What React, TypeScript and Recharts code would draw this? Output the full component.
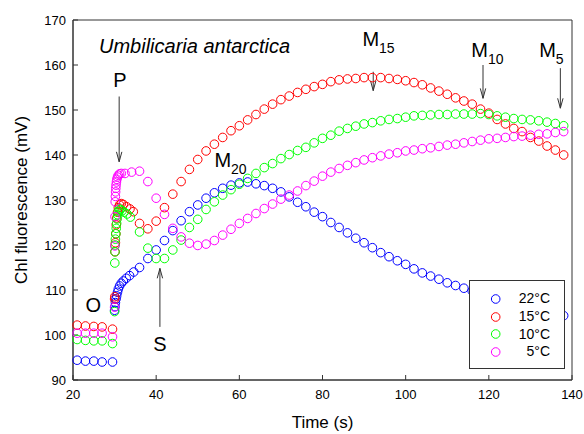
import { ScatterChart, Scatter, XAxis, YAxis, ReferenceArea, ReferenceLine, ReferenceDot, Legend } from "recharts"

const xTicks = [20, 40, 60, 80, 100, 120, 140]
const yTicks = [90, 100, 110, 120, 130, 140, 150, 160, 170]

// [time (s), Chl fluorescence (mV)]
const s22: [number, number][] = [
  [21, 94.4], [23, 94.2], [25, 94.2], [27, 94.0], [29.5, 94.0],
  [30.0, 105.5], [30.1, 106.3], [30.2, 107.2], [30.35, 108.0], [30.5, 108.7], [30.7, 109.5], [30.9, 110.2],
  [31.2, 110.9], [31.6, 111.5], [32.1, 112.0], [32.8, 112.6], [33.6, 113.2], [34.6, 114.0],
  [36, 115.0], [38, 117.0], [40, 118.9], [42, 121.0], [44, 123.2], [46, 125.4], [48, 127.4], [50, 128.9],
  [52, 130.4], [54, 131.6], [56, 132.6], [58, 133.3], [60, 133.8], [62, 134.0], [64, 133.6], [66, 133.2],
  [68, 132.6], [70, 131.8], [72, 130.7], [74, 129.5], [76, 128.5], [78, 127.3], [80, 126.3], [82, 125.0],
  [84, 123.9], [86, 122.7], [88, 121.5], [90, 120.5], [92, 119.4], [94, 118.3], [96, 117.4], [98, 116.5],
  [100, 115.7], [102, 114.7], [104, 113.8], [106, 113.1], [108, 112.4], [110, 111.6], [112, 111.0],
  [114, 110.4], [116, 109.8], [118, 109.3], [120, 108.8], [122, 108.3], [124, 107.8], [126, 107.3],
  [128, 106.8], [130, 106.3], [132, 105.8], [134, 105.2], [136, 104.7], [138, 104.3],
]

const s15: [number, number][] = [
  [21, 102.2], [23, 102.0], [25, 101.9], [27, 101.8], [29.5, 101.3],
  [30.0, 108.0], [30.05, 108.5], [30.1, 118.5], [30.2, 120.5], [30.3, 122.5], [30.4, 124.5], [30.5, 126.0],
  [30.7, 127.3], [30.9, 128.3], [31.2, 128.9], [31.6, 129.2], [32.1, 129.0], [32.9, 128.5], [33.7, 128.0],
  [34.5, 127.4], [36, 124.8], [38, 123.6], [40, 125.3], [42, 128.3], [44, 131.3], [46, 134.1], [48, 136.8],
  [50, 139.0], [52, 140.9], [54, 142.4], [56, 143.9], [58, 145.4], [60, 146.5], [62, 147.8], [64, 149.0],
  [66, 150.2], [68, 151.3], [70, 152.3], [72, 153.1], [74, 153.9], [76, 154.6], [78, 155.2], [80, 155.7],
  [82, 156.3], [84, 156.7], [86, 156.9], [88, 157.0], [90, 157.2], [92, 157.2], [94, 157.2], [96, 157.0],
  [98, 156.8], [100, 156.5], [102, 156.1], [104, 155.6], [106, 154.9], [108, 154.2], [110, 153.5],
  [112, 152.7], [114, 152.0], [116, 151.3], [118, 150.2], [120, 149.3], [122, 147.9], [124, 146.9],
  [126, 145.9], [128, 145.2], [130, 143.9], [132, 143.1], [134, 142.0], [136, 141.1], [138, 140.0],
]

const s10: [number, number][] = [
  [21, 99.0], [23, 98.8], [25, 98.7], [27, 98.7], [29.5, 98.1],
  [30.0, 105.2], [30.05, 116.0], [30.1, 118.5], [30.15, 120.0], [30.2, 121.3], [30.3, 122.5], [30.4, 123.7],
  [30.5, 124.8], [30.6, 125.8], [30.75, 126.7], [30.9, 127.4], [31.1, 128.0], [31.4, 127.9], [31.8, 127.6],
  [32.3, 127.3], [33.0, 126.9], [33.8, 126.2], [36, 122.9], [38, 119.3], [40, 117.0], [42, 117.0],
  [44, 118.9], [46, 121.1], [48, 123.9], [50, 125.7], [52, 127.9], [54, 129.6], [56, 131.1], [58, 132.3],
  [60, 133.5], [62, 134.8], [64, 135.9], [66, 137.2], [68, 138.1], [70, 139.2], [72, 140.1], [74, 141.0],
  [76, 141.7], [78, 142.7], [80, 143.7], [82, 144.4], [84, 145.3], [86, 145.9], [88, 146.4], [90, 146.9],
  [92, 147.2], [94, 147.6], [96, 147.9], [98, 148.1], [100, 148.4], [102, 148.7], [104, 148.8],
  [106, 148.9], [108, 149.0], [110, 149.0], [112, 149.1], [114, 149.1], [116, 149.1], [118, 149.2],
  [120, 149.0], [122, 148.7], [124, 148.4], [126, 148.1], [128, 147.9], [130, 147.8], [132, 147.6],
  [134, 147.3], [136, 147.0], [138, 146.5],
]

const s5: [number, number][] = [
  [21, 100.4], [23, 100.4], [25, 100.4], [27, 100.4], [29.5, 99.6],
  [30.0, 106.2], [30.05, 119.8], [30.1, 126.3], [30.15, 129.6], [30.2, 130.8], [30.25, 131.8], [30.3, 132.6],
  [30.35, 133.3], [30.45, 134.0], [30.55, 134.6], [30.7, 135.1], [30.9, 135.5], [31.2, 135.8], [31.6, 135.9],
  [32.5, 135.9], [34.1, 136.2], [36, 136.4], [38, 134.1], [40, 130.4], [42, 126.8], [44, 123.7], [46, 121.8],
  [48, 120.4], [50, 119.9], [52, 120.2], [54, 121.0], [56, 122.2], [58, 123.5], [60, 124.8], [62, 125.9],
  [64, 127.0], [66, 128.1], [68, 129.1], [70, 130.2], [72, 131.1], [74, 132.0], [76, 133.2], [78, 134.2],
  [80, 135.3], [82, 136.2], [84, 137.0], [86, 137.7], [88, 138.3], [90, 138.9], [92, 139.4], [94, 139.8],
  [96, 140.2], [98, 140.5], [100, 140.9], [102, 141.1], [104, 141.4], [106, 141.6], [108, 141.9],
  [110, 142.2], [112, 142.4], [114, 142.7], [116, 143.0], [118, 143.3], [120, 143.6], [122, 143.7],
  [124, 143.9], [126, 144.1], [128, 144.2], [130, 144.4], [132, 144.6], [134, 144.7], [136, 145.0],
  [138, 145.2],
]

const series = [
  { name: "22°C", color: "#0000ff", data: s22 },
  { name: "15°C", color: "#ff0000", data: s15 },
  { name: "10°C", color: "#00ff00", data: s10 },
  { name: "5°C", color: "#ff00ff", data: s5 },
]

// annotation text, anchored in data units
const notes = [
  { text: "Umbilicaria antarctica", sub: "", t: 26.25, v: 162.7, anchor: "start", italic: true, size: 20 },
  { text: "P", sub: "", t: 31.3, v: 155.1, anchor: "middle", italic: false, size: 20 },
  { text: "O", sub: "", t: 24.9, v: 105.1, anchor: "middle", italic: false, size: 20 },
  { text: "S", sub: "", t: 40.9, v: 96.5, anchor: "middle", italic: false, size: 20 },
  { text: "M", sub: "20", t: 54.0, v: 137.4, anchor: "start", italic: false, size: 20 },
  { text: "M", sub: "15", t: 89.6, v: 164.3, anchor: "start", italic: false, size: 20 },
  { text: "M", sub: "10", t: 115.8, v: 161.7, anchor: "start", italic: false, size: 20 },
  { text: "M", sub: "5", t: 132.1, v: 161.7, anchor: "start", italic: false, size: 20 },
]

// arrows: from tail to tip
const arrows = [
  { t: 31.1, from: 153, to: 138.5 },
  { t: 40.9, from: 101.8, to: 114.8 },
  { t: 92.2, from: 158.5, to: 154.3 },
  { t: 118.6, from: 160, to: 152.6 },
  { t: 137.2, from: 159.3, to: 150.4 },
]

const ink = "#333"

function LegendBox() {
  return (
    <div
      style={{
        width: 96,
        height: 89,
        background: "#fff",
        border: `1px solid ${ink}`,
        boxSizing: "border-box",
        paddingTop: 9,
        fontSize: 14,
        color: "#000",
      }}
    >
      {series.map((s) => (
        <div key={s.name} style={{ display: "flex", alignItems: "center", height: 17.8 }}>
          <svg width={40} height={12} style={{ display: "block" }}>
            <circle cx={25.7} cy={6} r={4.3} fill="none" stroke={s.color} strokeWidth={1} />
          </svg>
          <span style={{ marginLeft: "auto", marginRight: 14, lineHeight: "17.8px" }}>{s.name}</span>
        </div>
      ))}
    </div>
  )
}

export default function App() {
  return (
    <div style={{ position: "absolute", left: 0, top: 0, width: 584, height: 434, background: "#fff", fontFamily: "'Liberation Sans', Arial, sans-serif" }}>
      <ScatterChart width={584} height={434} margin={{ top: 20, right: 12, bottom: 24, left: 23 }}>
        <XAxis
          type="number"
          dataKey="t"
          domain={[20, 140]}
          ticks={xTicks}
          height={30}
          tickSize={-5}
          tickMargin={15}
          axisLine={{ stroke: ink }}
          tickLine={{ stroke: ink }}
          tick={{ fontSize: 13, fill: "#000" }}
          label={{ value: "Time (s)", position: "bottom", offset: 6, style: { fontSize: 17, fill: "#000" } }}
        />
        <YAxis
          type="number"
          dataKey="v"
          domain={[90, 170]}
          ticks={yTicks}
          width={50}
          tickSize={-5}
          tickMargin={12}
          axisLine={{ stroke: ink }}
          tickLine={{ stroke: ink }}
          tick={{ fontSize: 13, fill: "#000" }}
          label={{
            value: "Chl fluorescence (mV)",
            angle: -90,
            position: "insideLeft",
            offset: -2,
            style: { fontSize: 17, fill: "#000", textAnchor: "middle" },
          }}
        />
        <ReferenceArea x1={20} x2={140} y1={90} y2={170} fill="none" stroke={ink} strokeWidth={1} />
        {series.map((s) => (
          <Scatter
            key={s.name}
            name={s.name}
            data={s.data.map(([t, v]) => ({ t, v }))}
            isAnimationActive={false}
            shape={(p: any) => <circle cx={p.cx} cy={p.cy} r={4.3} fill="none" stroke={s.color} strokeWidth={1} />}
          />
        ))}
        {arrows.flatMap((a, i) => {
          const dir = a.to > a.from ? 1 : -1
          const wy = a.to - dir * 2.2
          return [
            <ReferenceLine key={`a${i}`} segment={[{ x: a.t, y: a.from }, { x: a.t, y: a.to }]} stroke={ink} />,
            <ReferenceLine key={`l${i}`} segment={[{ x: a.t - 0.65, y: wy }, { x: a.t, y: a.to }]} stroke={ink} />,
            <ReferenceLine key={`r${i}`} segment={[{ x: a.t + 0.65, y: wy }, { x: a.t, y: a.to }]} stroke={ink} />,
          ]
        })}
        {notes.map((n, i) => (
          <ReferenceDot
            key={`n${i}`}
            x={n.t}
            y={n.v}
            r={0}
            shape={(p: any) => (
              <text x={p.cx} y={p.cy} textAnchor={n.anchor} fontSize={n.size} fontStyle={n.italic ? "italic" : "normal"} fill="#000">
                {n.text}
                {n.sub && (
                  <tspan fontSize={14} dy={7}>
                    {n.sub}
                  </tspan>
                )}
              </text>
            )}
          />
        ))}
        <Legend
          layout="horizontal"
          verticalAlign="middle"
          align="center"
          wrapperStyle={{ left: 469, top: 280, width: 96, height: 89 }}
          content={() => <LegendBox />}
        />
      </ScatterChart>
    </div>
  )
}
